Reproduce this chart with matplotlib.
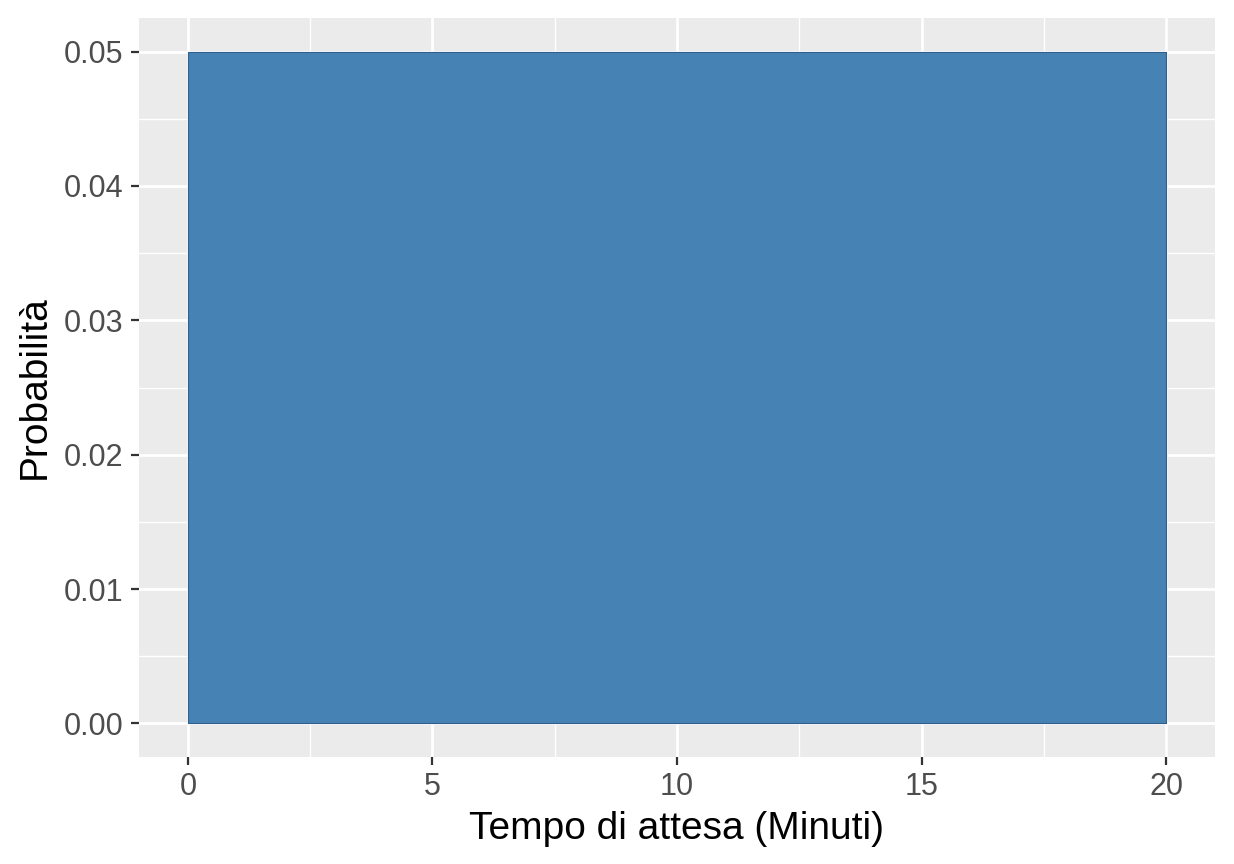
import matplotlib
matplotlib.use("Agg")
import matplotlib.pyplot as plt

plt.rcParams.update({"font.family": ["Liberation Sans", "DejaVu Sans"]})

# uniform distribution of waiting time
x_start = [0]
x_end = [20]
density = [0.05]
x_ticks = [0, 5, 10, 15, 20]
y_ticks = [0.00, 0.01, 0.02, 0.03, 0.04, 0.05]

fig = plt.figure(figsize=(12.34, 8.64), dpi=100)
ax = fig.add_axes([0.1126, 0.1238, 0.872, 0.8554])
ax.set_facecolor("#EBEBEB")

for a, b, d in zip(x_start, x_end, density):
    ax.fill_between([a, b], [0, 0], [d, d], facecolor="#4682B4",
                    edgecolor="#2F5F8A", linewidth=0.8, zorder=3)

ax.set_xlim(-1, 21)
ax.set_ylim(-0.0025, 0.0525)
ax.set_xticks(x_ticks)
ax.set_xticks([2.5, 7.5, 12.5, 17.5], minor=True)
ax.set_yticks(y_ticks)
ax.set_yticks([0.005, 0.015, 0.025, 0.035, 0.045], minor=True)
ax.set_yticklabels([f"{v:.2f}" for v in y_ticks])

ax.grid(which="major", color="white", linewidth=2.0, zorder=1)
ax.grid(which="minor", color="white", linewidth=1.0, zorder=1)
ax.set_axisbelow(True)
for s in ax.spines.values():
    s.set_visible(False)

ax.tick_params(which="major", length=6, width=1.6, color="#333333",
               labelsize=22, labelcolor="#4D4D4D", pad=5)
ax.tick_params(which="minor", length=0)

ax.set_xlabel("Tempo di attesa (Minuti)", fontsize=28, labelpad=6)
ax.set_ylabel("Probabilità", fontsize=28, labelpad=8)

fig.savefig("out.png", dpi=100, facecolor="white")
